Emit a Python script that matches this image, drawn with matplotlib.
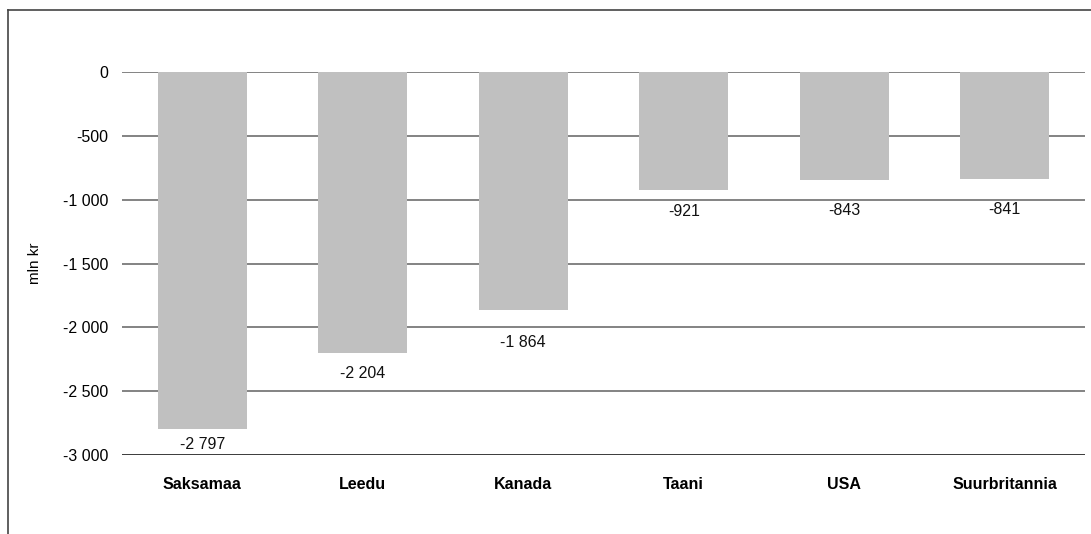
import matplotlib
matplotlib.use("Agg")
import matplotlib.pyplot as plt
from matplotlib.lines import Line2D

# andmed
countries = ["Saksamaa", "Leedu", "Kanada", "Taani", "USA", "Suurbritannia"]
values = [-2797, -2204, -1864, -921, -843, -841]
yticks = [0, -500, -1000, -1500, -2000, -2500, -3000]
ylabel = "mln kr"

# siltide kaugus tulba otsast (pikslites), nagu originaalis
label_gap_px = [15, 20, 33, 22, 31, 30]


def fmt(v):
    return f"{v:,.0f}".replace(",", " ")


plt.rcParams["font.family"] = ["Liberation Sans", "DejaVu Sans"]

fig = plt.figure(figsize=(10.91, 5.34), dpi=100)
ax = fig.add_axes([122 / 1091, 1 - 455 / 534, (1085 - 122) / 1091, (455 - 72) / 534])

x = range(len(countries))
bars = ax.bar(x, values, width=0.555, color="#c0c0c0", zorder=3)

for b, v, gap in zip(bars, values, label_gap_px):
    ax.annotate(fmt(v), (b.get_x() + b.get_width() / 2, v),
                xytext=(0, -gap * 72 / 100), textcoords="offset points",
                ha="center", va="center", fontsize=11.5, color="#111111")

ax.set_xlim(-0.5, len(countries) - 0.5)
ax.set_ylim(-3000, 0)
ax.set_yticks(yticks)
ax.set_yticklabels([fmt(t) for t in yticks], fontsize=11.5)
ax.set_xticks(list(x))
ax.set_xticklabels(countries, fontsize=11.5, fontweight="bold")
ax.tick_params(axis="y", length=0, pad=10)
ax.tick_params(axis="x", length=0, pad=16)

for t in yticks[:-1]:
    ax.axhline(t, color="#6e6e6e", lw=1.2, zorder=1)
ax.axhline(-3000, color="#1a1a1a", lw=1.2, zorder=1)

for s in ax.spines.values():
    s.set_visible(False)

ax.set_ylabel(ylabel, fontsize=11, labelpad=15)

# raam
fig.add_artist(Line2D([8 / 1091, 1], [1 - 10 / 534, 1 - 10 / 534], color="#444444", lw=1.2))
fig.add_artist(Line2D([8 / 1091, 8 / 1091], [0, 1 - 10 / 534], color="#444444", lw=1.2))

fig.savefig("out.png", dpi=100)
